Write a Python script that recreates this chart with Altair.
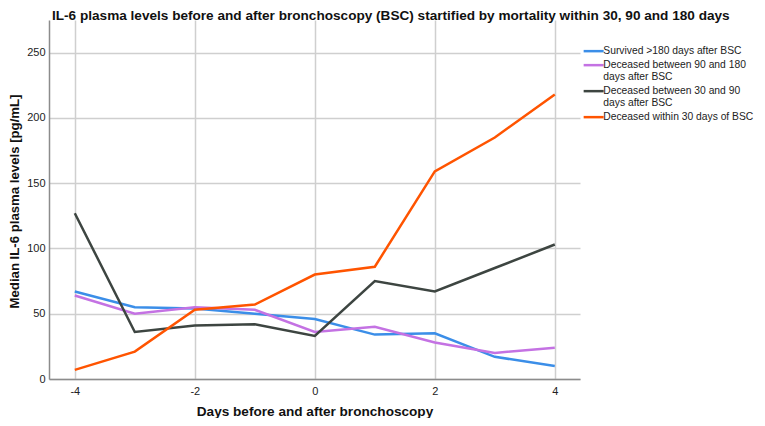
import altair as alt
import pandas as pd

days = [-4, -3, -2, -1, 0, 1, 2, 3, 4]
survived = [67, 55, 54, 50, 46, 34, 35, 17, 10]
dec_90_180 = [64, 50, 55, 53, 36, 40, 28, 20, 24]
dec_30_90 = [127, 36, 41, 42, 33, 75, 67, 85, 103]
dec_30 = [7, 21, 53, 57, 80, 86, 159, 185, 218]

groups = [
    "Survived >180 days after BSC",
    "Deceased between 90 and 180|days after BSC",
    "Deceased between 30 and 90|days after BSC",
    "Deceased within 30 days of BSC",
]
colors = ["#3b8ee8", "#c472e3", "#3d4541", "#ff5400"]
series = [survived, dec_90_180, dec_30_90, dec_30]

x_ticks = [-4, -2, 0, 2, 4]
y_ticks = [0, 50, 100, 150, 200, 250]

rows = []
for g, vals in zip(groups, series):
    for d, v in zip(days, vals):
        rows.append({"day": d, "value": v, "group": g})
df = pd.DataFrame(rows)

FONT = "Liberation Sans"

chart = alt.Chart(df).mark_line(strokeWidth=2.5).encode(
    x=alt.X("day:Q",
            scale=alt.Scale(domain=[-4.43, 4.42], nice=False, zero=False),
            axis=alt.Axis(values=x_ticks, title="Days before and after bronchoscopy",
                          labelExpr="'' + datum.value",
                          titleFontSize=13.6, titleFontWeight="bold", titleFont=FONT,
                          titleColor="#111", titleX=265.5, titleY=36, titleBaseline="alphabetic",
                          labelFont=FONT, labelFontSize=11,
                          labelColor="#222", ticks=False, labelPadding=6,
                          domainColor="#8c8c8c", domainWidth=1.5,
                          gridColor="#cfcfcf", gridWidth=1.5)),
    y=alt.Y("value:Q",
            scale=alt.Scale(domain=[0, 275], nice=False),
            axis=alt.Axis(values=y_ticks, title="Median IL-6 plasma levels [pg/mL]",
                          titleFontSize=13.2, titleFontWeight="bold", titleFont=FONT,
                          titleColor="#111", titleX=-30.5, titleY=181, titleBaseline="alphabetic",
                          titleAngle=270, titleAlign="center",
                          labelFont=FONT, labelFontSize=11,
                          labelColor="#222", ticks=False, labelPadding=4,
                          domainColor="#8c8c8c", domainWidth=1.5,
                          gridColor="#cfcfcf", gridWidth=1.5)),
    color=alt.Color("group:N",
                    scale=alt.Scale(domain=groups, range=colors),
                    sort=groups,
                    legend=alt.Legend(title=None, orient="none", legendX=539.5, legendY=26,
                                      padding=0,
                                      symbolType="M-4,0H4", symbolSize=25, symbolStrokeWidth=2.5,
                                      labelFont=FONT, labelFontSize=10.3,
                                      labelColor="#222", labelLimit=300, rowPadding=3,
                                      labelOffset=4.5,
                                      labelExpr="split(datum.label, '|')")),
).properties(
    width=531,
    height=359,
    title=alt.TitleParams("IL-6 plasma levels before and after bronchoscopy (BSC) startified by mortality within 30, 90 and 180 days",
                          font=FONT, fontSize=13.6, fontWeight="bold",
                          anchor="start", frame="group", dx=3, dy=3, offset=0, color="#111"),
    autosize=alt.AutoSizeParams(type="none"),
    padding={"left": 41, "top": 12, "right": 177, "bottom": 39},
).configure_view(stroke=None)

chart.save("out.html", embed_options={"renderer": "svg", "actions": False})
